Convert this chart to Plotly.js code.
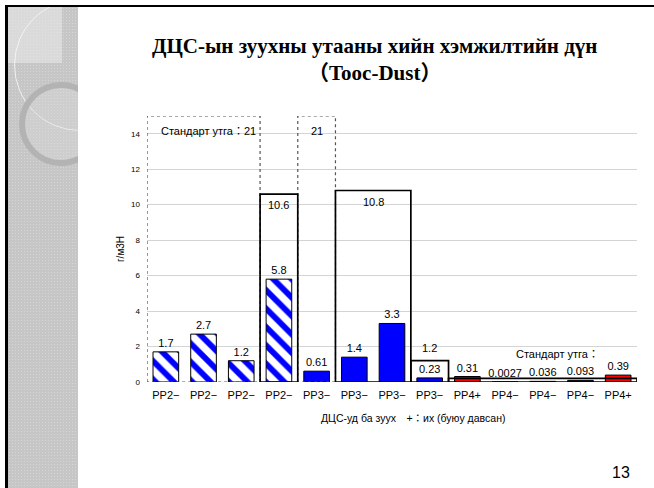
<!DOCTYPE html>
<html>
<head>
<meta charset="utf-8">
<script src="https://cdn.plot.ly/plotly-3.0.1.min.js"></script>
<style>
html,body{margin:0;padding:0;background:#fff;}
#slide{position:relative;width:654px;height:488px;overflow:hidden;background:#fff;}
#topline{position:absolute;left:5px;top:5px;width:649px;height:2px;background:#000;}
#leftline{position:absolute;left:5px;top:5px;width:3px;height:483px;background:#000;}
#panel{position:absolute;left:8px;top:7px;width:70px;height:481px;background-color:#c6c6c6;
  background-image:radial-gradient(#d6d6d6 0.7px, transparent 0.9px);background-size:3px 3px;overflow:hidden;}
#light{position:absolute;left:0;top:0;width:54px;height:56px;background:rgba(235,235,235,0.55);}
#bigcircle{position:absolute;left:6px;top:-8px;width:130px;height:130px;border-radius:50%;border:1.5px solid rgba(245,245,245,0.9);}
#ring{position:absolute;left:11px;top:75px;width:72px;height:72px;border-radius:50%;border:6px solid #b3b3b3;background:rgba(220,220,220,0.35);}
#chart{position:absolute;left:0;top:0;width:654px;height:488px;}
</style>
</head>
<body>
<div id="slide">
  <div id="panel"><div id="light"></div><div id="bigcircle"></div><div id="ring"></div></div>
  <div id="topline"></div>
  <div id="leftline"></div>
  <div id="chart"></div>
</div>
<script>
// ---- data ----
const categories = ['PP2−','PP2−','PP2−','PP2−','PP3−','PP3−','PP3−','PP3−','PP4+','PP4−','PP4−','PP4−','PP4+'];
const dustValues = [1.7, 2.7, 1.2, 5.8, 0.61, 1.4, 3.3, 0.23, 0.31, 0.0027, 0.036, 0.093, 0.39];
const dustLabels = ['1.7','2.7','1.2','5.8','0.61','1.4','3.3','0.23','0.31','0.0027','0.036','0.093','0.39'];
const stdFirstIdx = [0, 3, 4, 5, 7, 8];
const stdLastIdx  = [2, 3, 4, 6, 7, 12];
const stdValues   = [21, 10.6, 21, 10.8, 1.2, 0.2];
const stdLabels   = ['Стандарт утга：21', '10.6', '21', '10.8', '1.2', 'Стандарт утга：'];
const yTitle = 'г/м3Н';
const xTitle = 'ДЦС-уд ба зуух　+：их (буюу давсан)';
const chartTitle = 'ДЦС-ын зуухны утааны хийн хэмжилтийн дүн<br>（Tooc-Dust）';
const slideNumber = '13';

// ---- styles ----
const barHatched    = [true, true, true, true, false, false, false, false, false, false, false, false, false];
const barFillColors = ['#0000FF','#0000FF','#0000FF','#0000FF','#0000FF','#0000FF','#0000FF','#0000FF','#FF0000','#000080','#000080','#000080','#FF0000'];
const stdDotted     = [true, false, true, false, false, false];
const stdLabelAnchor = ['top','top','top','top','bottom','bottom'];
const stdLabelYShift = [-7, -3, -7, -4, 5, 16];
const stdLabelXShift = [5, 0, 0, 0, 0, 15];
const yMax = 15;
const FONT = 'Liberation Sans, Arial, Noto Sans CJK JP, sans-serif';

const xIdx = categories.map((c, i) => i);

function boxTrace(dotted) {
  const xs = [], ys = [];
  stdValues.forEach((v, i) => {
    if (stdDotted[i] !== dotted) return;
    const x0 = stdFirstIdx[i] - 0.5, x1 = stdLastIdx[i] + 0.5;
    const top = Math.min(v, yMax);
    xs.push(x0, x0, x1, x1, x0, null);
    ys.push(0, top, top, 0, 0, null);
  });
  return {
    type: 'scatter', mode: 'lines', x: xs, y: ys, cliponaxis: false,
    line: dotted ? {color: '#555', width: 1.2, dash: 'dot'} : {color: '#000', width: 1.7},
    hoverinfo: 'skip', showlegend: false
  };
}

function barTrace(hatched) {
  const sel = xIdx.filter(i => barHatched[i] === hatched);
  const tr = {
    type: 'bar', x: sel, y: sel.map(i => dustValues[i]), width: 0.68,
    marker: {
      color: hatched ? '#0000FF' : sel.map(i => barFillColors[i]),
      line: {color: '#000', width: 1}
    },
    text: sel.map(i => dustLabels[i]), textposition: 'outside', cliponaxis: false,
    constraintext: 'none',
    textfont: {family: FONT, size: 11, color: '#000'},
    hoverinfo: 'skip', showlegend: false
  };
  if (hatched) {
    tr.marker.pattern = {shape: '\\', bgcolor: '#FFFFFF', fillmode: 'replace', size: 13, solidity: 0.45};
  }
  return tr;
}

const annotations = stdLabels.map((t, i) => ({
  text: t, xref: 'x', yref: 'y',
  x: (stdFirstIdx[i] + stdLastIdx[i]) / 2, y: Math.min(stdValues[i], yMax),
  xanchor: 'center', yanchor: stdLabelAnchor[i],
  xshift: stdLabelXShift[i], yshift: stdLabelYShift[i],
  showarrow: false, font: {family: FONT, size: 11, color: '#000'}
}));
annotations.push({
  text: xTitle, xref: 'paper', yref: 'paper', x: 0.543, y: -0.137,
  xanchor: 'center', yanchor: 'middle', showarrow: false,
  font: {family: FONT, size: 10.5, color: '#000'}
});
annotations.push({
  text: slideNumber, xref: 'paper', yref: 'paper', x: 0.99, y: -0.342,
  xanchor: 'right', yanchor: 'middle', showarrow: false,
  font: {family: FONT, size: 16, color: '#000'}
});

const layout = {
  width: 654, height: 488,
  margin: {l: 147, r: 17, t: 116, b: 106},
  paper_bgcolor: 'rgba(0,0,0,0)', plot_bgcolor: 'rgba(0,0,0,0)',
  showlegend: false, barmode: 'overlay',
  title: {
    text: '<b>' + chartTitle + '</b>',
    font: {family: 'Liberation Serif, Times New Roman, Noto Sans CJK JP, serif', size: 21, color: '#000'},
    x: 0.573, xref: 'container', xanchor: 'center',
    y: 0.891, yref: 'container', yanchor: 'top'
  },
  xaxis: {
    type: 'linear', range: [-0.5, 12.5], tickvals: xIdx, ticktext: categories,
    showgrid: false, zeroline: false, showline: false, ticks: '', ticklabelstandoff: 5,
    tickfont: {family: FONT, size: 11, color: '#000'}, fixedrange: true
  },
  yaxis: {
    range: [0, yMax], tick0: 0, dtick: 2,
    showgrid: true, gridcolor: '#d4d4d4', gridwidth: 1,
    zeroline: false, showline: false, ticks: '', ticklabelstandoff: 6,
    tickfont: {family: FONT, size: 8, color: '#000'},
    title: {text: yTitle, font: {family: FONT, size: 10, color: '#000'}, standoff: 4},
    fixedrange: true
  },
  annotations: annotations
};

Plotly.newPlot('chart', [barTrace(true), barTrace(false), boxTrace(true), boxTrace(false)], layout, {staticPlot: true, displayModeBar: false});
</script>
</body>
</html>
